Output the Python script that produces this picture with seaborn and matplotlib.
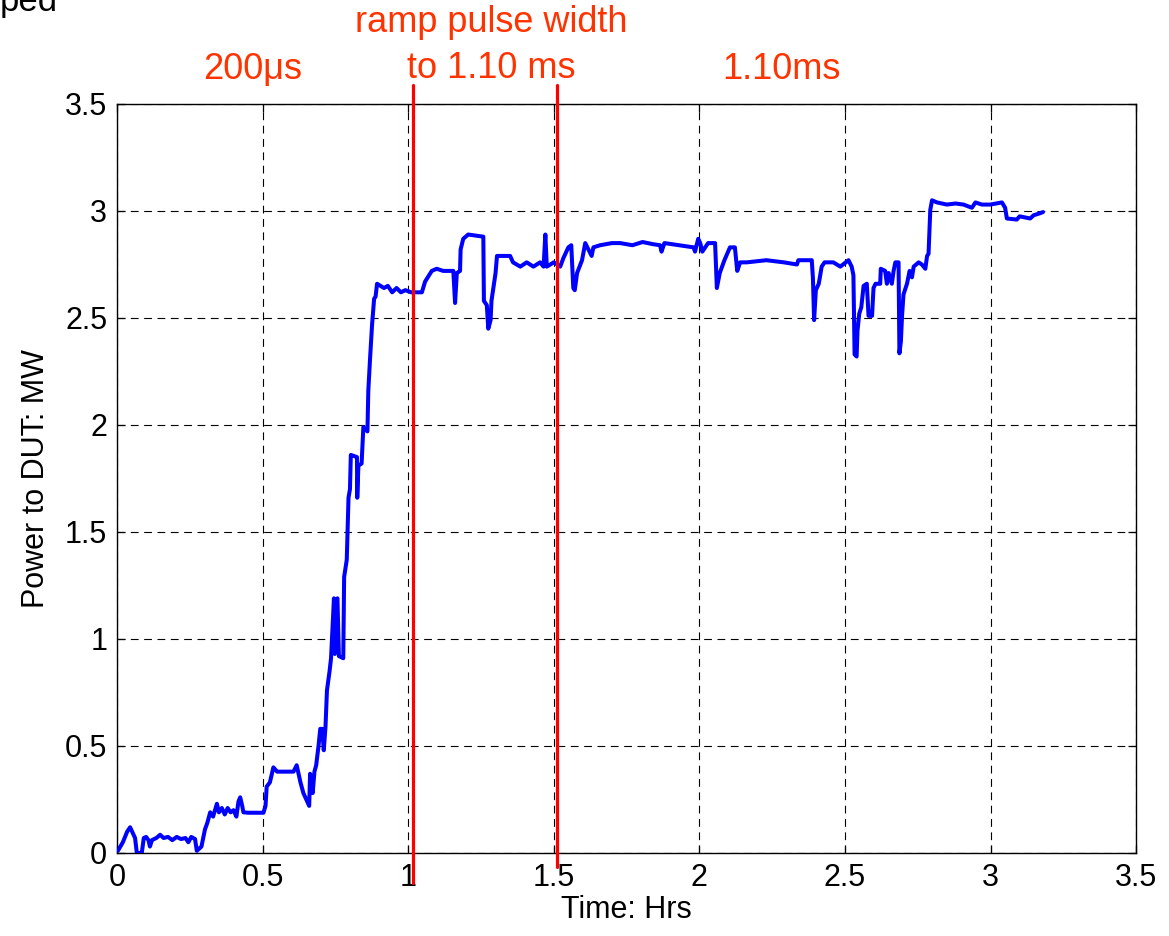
import numpy as np
import pandas as pd
import matplotlib
matplotlib.use("Agg")
import matplotlib.pyplot as plt
import seaborn as sns

# Power delivered to the DUT over the run
time_hrs = [
    0.003, 0.02, 0.035, 0.045, 0.055, 0.062, 0.068, 0.085, 0.092, 0.10,
    0.108, 0.113, 0.12, 0.135, 0.148, 0.16, 0.175, 0.19, 0.205, 0.22,
    0.235, 0.245, 0.255, 0.268, 0.274, 0.29, 0.302, 0.31, 0.32, 0.33,
    0.343, 0.35, 0.36, 0.37, 0.38, 0.39, 0.40, 0.41, 0.417, 0.423,
    0.43, 0.434, 0.45, 0.503, 0.51, 0.514, 0.525, 0.537, 0.55, 0.606,
    0.617, 0.625, 0.63, 0.64, 0.65, 0.66, 0.663, 0.668, 0.672, 0.678,
    0.684, 0.692, 0.698, 0.705, 0.71, 0.716, 0.721, 0.73, 0.735, 0.745,
    0.748, 0.752, 0.757, 0.762, 0.777, 0.780, 0.789, 0.795, 0.80, 0.803,
    0.824, 0.825, 0.829, 0.84, 0.846, 0.86, 0.863, 0.869, 0.876, 0.883,
    0.888, 0.893, 0.905, 0.917, 0.93, 0.945, 0.96, 0.975, 0.99, 1.01,
    1.047, 1.058, 1.081, 1.098, 1.12, 1.155, 1.161, 1.167, 1.178, 1.18,
    1.189, 1.206, 1.258, 1.26, 1.27, 1.275, 1.283, 1.286, 1.30, 1.305,
    1.35, 1.36, 1.385, 1.407, 1.43, 1.453, 1.465, 1.471, 1.476, 1.50,
    1.522, 1.533, 1.55, 1.56, 1.567, 1.572, 1.58, 1.597, 1.608, 1.63,
    1.636, 1.659, 1.70, 1.728, 1.77, 1.805, 1.84, 1.865, 1.87, 1.88,
    1.93, 1.98, 1.985, 1.996, 2.003, 2.01, 2.03, 2.054, 2.06, 2.07,
    2.086, 2.105, 2.122, 2.13, 2.14, 2.163, 2.23, 2.29, 2.335, 2.34,
    2.386, 2.39, 2.394, 2.40, 2.41, 2.42, 2.43, 2.46, 2.484, 2.512,
    2.523, 2.529, 2.533, 2.54, 2.543, 2.549, 2.556, 2.564, 2.575, 2.581,
    2.593, 2.598, 2.605, 2.621, 2.623, 2.638, 2.644, 2.65, 2.661, 2.667,
    2.673, 2.684, 2.687, 2.692, 2.696, 2.701, 2.713, 2.722, 2.73, 2.736,
    2.753, 2.764, 2.776, 2.782, 2.787, 2.793, 2.799, 2.816, 2.85, 2.88,
    2.907, 2.936, 2.948, 2.97, 2.999, 3.039, 3.05, 3.056, 3.09, 3.1,
    3.136, 3.148, 3.171, 3.18,
]
power_mw = [
    0.01, 0.05, 0.10, 0.12, 0.09, 0.07, 0.00, 0.00, 0.07, 0.075,
    0.06, 0.03, 0.06, 0.07, 0.085, 0.07, 0.075, 0.06, 0.075, 0.065,
    0.07, 0.05, 0.075, 0.065, 0.01, 0.03, 0.11, 0.14, 0.19, 0.17,
    0.23, 0.19, 0.21, 0.18, 0.21, 0.19, 0.20, 0.17, 0.24, 0.26,
    0.22, 0.19, 0.188, 0.188, 0.22, 0.31, 0.33, 0.40, 0.38, 0.38,
    0.41, 0.36, 0.33, 0.28, 0.25, 0.22, 0.37, 0.30, 0.28, 0.38,
    0.41, 0.50, 0.58, 0.58, 0.48, 0.59, 0.76, 0.85, 0.91, 1.19,
    0.93, 1.18, 1.19, 0.92, 0.91, 1.29, 1.37, 1.66, 1.70, 1.86,
    1.85, 1.66, 1.81, 1.82, 1.99, 1.97, 2.16, 2.31, 2.47, 2.59,
    2.60, 2.66, 2.65, 2.64, 2.65, 2.62, 2.64, 2.62, 2.63, 2.62,
    2.62, 2.67, 2.72, 2.73, 2.72, 2.72, 2.57, 2.71, 2.72, 2.82,
    2.87, 2.89, 2.88, 2.58, 2.56, 2.45, 2.49, 2.58, 2.71, 2.79,
    2.79, 2.76, 2.74, 2.76, 2.74, 2.76, 2.74, 2.89, 2.74, 2.76,
    2.74, 2.78, 2.83, 2.84, 2.64, 2.63, 2.71, 2.77, 2.85, 2.79,
    2.83, 2.84, 2.85, 2.85, 2.84, 2.855, 2.845, 2.84, 2.81, 2.85,
    2.84, 2.83, 2.81, 2.87, 2.85, 2.81, 2.85, 2.85, 2.64, 2.71,
    2.77, 2.83, 2.83, 2.72, 2.76, 2.76, 2.77, 2.76, 2.75, 2.77,
    2.77, 2.685, 2.49, 2.63, 2.66, 2.74, 2.76, 2.76, 2.74, 2.77,
    2.74, 2.70, 2.33, 2.32, 2.44, 2.52, 2.55, 2.65, 2.66, 2.51,
    2.51, 2.64, 2.66, 2.66, 2.73, 2.72, 2.66, 2.71, 2.66, 2.72,
    2.76, 2.76, 2.335, 2.39, 2.51, 2.61, 2.66, 2.72, 2.69, 2.74,
    2.76, 2.75, 2.73, 2.79, 2.80, 3.005, 3.05, 3.04, 3.03, 3.035,
    3.03, 3.015, 3.04, 3.03, 3.03, 3.04, 3.015, 2.965, 2.96, 2.975,
    2.965, 2.98, 2.99, 2.995,
]

# Pulse-width change markers (time, top, bottom)
marker_time = [1.017, 1.512]
marker_top = [3.59, 3.59]
marker_bottom = [-0.14, -0.065]

# Phase annotations
phase_text = ["200\u03bcs", "ramp pulse width", "to 1.10 ms", "1.10ms"]
phase_x = [0.465, 1.285, 1.285, 2.282]
phase_y = [3.66, 3.88, 3.665, 3.66]

x_ticks = [0, 0.5, 1, 1.5, 2, 2.5, 3, 3.5]
y_ticks = [0, 0.5, 1, 1.5, 2, 2.5, 3, 3.5]
x_ticklabels = ["0", "0.5", "1", "1.5", "2", "2.5", "3", "3.5"]
y_ticklabels = ["0", "0.5", "1", "1.5", "2", "2.5", "3", "3.5"]

sns.set_theme(style="white")
plt.rcParams["font.family"] = ["Liberation Sans", "DejaVu Sans"]

df = pd.DataFrame({"Time": time_hrs, "Power": power_mw})

fig = plt.figure(figsize=(11.69, 9.36), dpi=100)
ax = fig.add_axes([0.1001, 0.0887, 0.8718, 0.8002])

sns.lineplot(data=df, x="Time", y="Power", ax=ax, color="#0000FF",
             linewidth=2.9, estimator=None, sort=False, zorder=3)

ax.set_xlim(0, 3.5)
ax.set_ylim(0, 3.5)
ax.set_xticks(x_ticks)
ax.set_xticklabels(x_ticklabels)
ax.set_yticks(y_ticks)
ax.set_yticklabels(y_ticklabels)

ax.grid(True, color="black", linewidth=0.8, linestyle=(0, (7, 5)))
for s in ax.spines.values():
    s.set_color("black")
    s.set_linewidth(1.0)
ax.tick_params(direction="in", length=6, width=0.9, colors="black",
               labelsize=22, pad=7, top=True, right=True,
               bottom=True, left=True)

ax.set_xlabel("Time: Hrs", fontsize=22, labelpad=2, color="black")
ax.set_ylabel("Power to DUT: MW", fontsize=22, labelpad=10, color="black")

# Vertical markers extending past the plotting area
for xm, yt, yb in zip(marker_time, marker_top, marker_bottom):
    ax.plot([xm, xm], [yb, yt], color="#FF0000", linewidth=2.3,
            clip_on=False, zorder=4)

for txt, xp, yp in zip(phase_text, phase_x, phase_y):
    ax.text(xp, yp, txt, color="#FF3300", fontsize=26, ha="center",
            va="center", clip_on=False)

fig.text(0.0, 1 - 11 / 936, "ped", fontsize=25, color="black",
         ha="left", va="baseline")

fig.savefig("out.png", dpi=100)
